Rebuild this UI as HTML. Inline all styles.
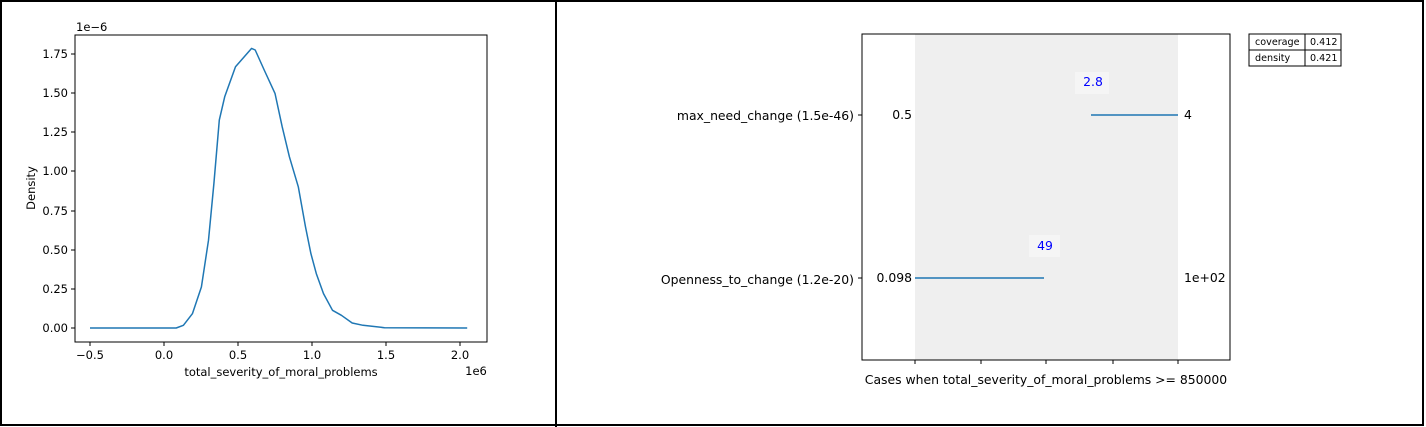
<!DOCTYPE html>
<html><head><style>body{margin:0;background:#fff}svg{display:block}text{font-family:"DejaVu Sans","Liberation Sans",sans-serif}</style></head><body>
<svg width="1426" height="427" viewBox="0 0 1426 427" xmlns="http://www.w3.org/2000/svg">
<rect x="1" y="1" width="1422" height="424" fill="#fff" stroke="#000" stroke-width="2"/>
<line x1="556" y1="0" x2="556" y2="427" stroke="#000" stroke-width="2"/>
<!-- left -->
<rect x="75" y="35" width="412" height="307" fill="none" stroke="#000" stroke-width="1"/>
<g font-size="11.5" fill="#000" text-anchor="middle">
<g stroke="#000"><line x1="90" y1="342" x2="90" y2="346"/><line x1="164" y1="342" x2="164" y2="346"/><line x1="238" y1="342" x2="238" y2="346"/><line x1="312" y1="342" x2="312" y2="346"/><line x1="386" y1="342" x2="386" y2="346"/><line x1="460" y1="342" x2="460" y2="346"/></g>
<text x="90" y="359">−0.5</text><text x="164" y="359">0.0</text><text x="238" y="359">0.5</text><text x="312" y="359">1.0</text><text x="386" y="359">1.5</text><text x="460" y="359">2.0</text>
<text x="281" y="376">total_severity_of_moral_problems</text>
<text x="476" y="375">1e6</text>
</g>
<g font-size="11.5" fill="#000" text-anchor="end">
<g stroke="#000"><line x1="71" y1="328" x2="75" y2="328"/><line x1="71" y1="289" x2="75" y2="289"/><line x1="71" y1="250" x2="75" y2="250"/><line x1="71" y1="211" x2="75" y2="211"/><line x1="71" y1="171" x2="75" y2="171"/><line x1="71" y1="132" x2="75" y2="132"/><line x1="71" y1="93" x2="75" y2="93"/><line x1="71" y1="54" x2="75" y2="54"/></g>
<text x="68" y="332">0.00</text><text x="68" y="293">0.25</text><text x="68" y="254">0.50</text><text x="68" y="215">0.75</text><text x="68" y="175">1.00</text><text x="68" y="136">1.25</text><text x="68" y="97">1.50</text><text x="68" y="58">1.75</text>
<text x="76" y="31" text-anchor="start">1e−6</text>
<text transform="translate(35,188) rotate(-90)" text-anchor="middle">Density</text>
</g>
<polyline fill="none" stroke="#1f77b4" stroke-width="1.5" stroke-linejoin="round" points="90,328 176.2,328 183.4,325.3 192.4,313.7 201.4,287 208.5,240.2 213.9,183.5 219.3,120.1 224.7,96.8 235.5,66.7 251.6,48.4 255.2,50 264.2,70 275,93.4 282.2,126.8 289.4,156.8 298.3,186.8 305.5,226.9 310.9,253.6 316.3,273.6 323.5,293.6 332.5,310.3 341.4,315.3 352.2,323 363,325.3 384.5,327.7 467.2,328"/>
<!-- right -->
<rect x="915" y="34" width="263" height="326" fill="#efefef"/>
<rect x="862" y="34" width="368" height="326" fill="none" stroke="#000" stroke-width="1"/>
<g stroke="#000"><line x1="915" y1="360" x2="915" y2="364"/><line x1="981" y1="360" x2="981" y2="364"/><line x1="1046" y1="360" x2="1046" y2="364"/><line x1="1113" y1="360" x2="1113" y2="364"/><line x1="1178" y1="360" x2="1178" y2="364"/><line x1="858" y1="115" x2="862" y2="115"/><line x1="858" y1="278" x2="862" y2="278"/></g>
<line x1="1091" y1="115" x2="1178" y2="115" stroke="#1f77b4" stroke-width="1.5"/>
<line x1="915" y1="278" x2="1044" y2="278" stroke="#1f77b4" stroke-width="1.5"/>
<g font-size="12.4" fill="#000">
<text x="854" y="120" text-anchor="end">max_need_change (1.5e-46)</text>
<text x="854" y="284" text-anchor="end">Openness_to_change (1.2e-20)</text>
<text x="912" y="119" text-anchor="end">0.5</text>
<text x="912" y="282" text-anchor="end">0.098</text>
<text x="1184" y="119">4</text>
<text x="1184" y="282">1e+02</text>
<text x="1046" y="384" text-anchor="middle">Cases when total_severity_of_moral_problems &gt;= 850000</text>
</g>
<rect x="1075" y="72" width="34" height="22" fill="#f5f5f5"/>
<rect x="1029" y="235" width="31" height="22" fill="#f5f5f5"/>
<g font-size="12.4" fill="#0000ff" text-anchor="middle"><text x="1093" y="86">2.8</text><text x="1045" y="250">49</text></g>
<g stroke="#000" fill="#fff"><rect x="1249" y="34" width="92" height="32"/><line x1="1249" y1="50" x2="1341" y2="50"/><line x1="1305" y1="34" x2="1305" y2="66"/></g>
<g font-size="9.6" fill="#000"><text x="1255" y="45">coverage</text><text x="1255" y="61">density</text><text x="1310" y="45">0.412</text><text x="1310" y="61">0.421</text></g>
</svg>
</body></html>
